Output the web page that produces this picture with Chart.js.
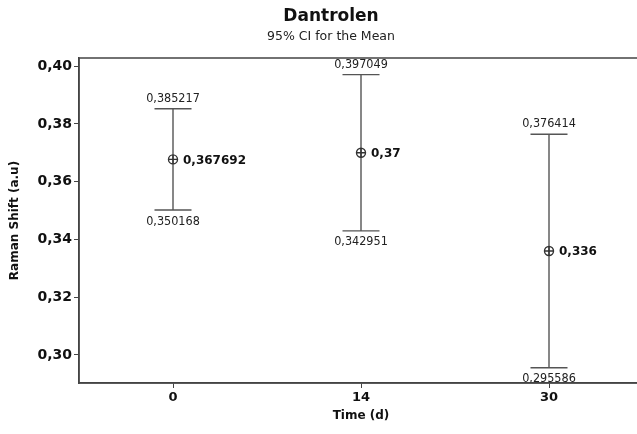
<!DOCTYPE html>
<html>
<head>
<meta charset="utf-8">
<script src="https://cdn.jsdelivr.net/npm/chart.js@4"></script>
<style>
  html, body { margin: 0; padding: 0; background: #fff; overflow: hidden; }
  #wrap { width: 637px; height: 434px; overflow: hidden; }
</style>
</head>
<body>
<div id="wrap"><canvas id="c" width="662" height="434"></canvas></div>
<script>
// Interval plot: mean with 95% CI per time point
const TIMES = ["0", "14", "30"];
const MEANS = [0.367692, 0.37, 0.336];
const UPPER = [0.385217, 0.397049, 0.376414];
const LOWER = [0.350168, 0.342951, 0.295586];
const Y_TICKS = [0.30, 0.32, 0.34, 0.36, 0.38, 0.40];

const INK = "#111", LINE = "#555", FRAME = "#444";
const SMALL = '12.5px "Liberation Sans Narrow", "DejaVu Sans Condensed", "DejaVu Sans"';
const comma = v => String(v).replace(".", ",");

const intervals = {
  id: "intervals",
  beforeDatasetsDraw(chart) {
    const { ctx, scales: { x, y } } = chart;
    ctx.save();
    ctx.strokeStyle = LINE;
    ctx.lineWidth = 1.4;
    TIMES.forEach((t, i) => {
      const px = x.getPixelForValue(i);
      const yu = y.getPixelForValue(UPPER[i]), yl = y.getPixelForValue(LOWER[i]);
      ctx.beginPath();
      ctx.moveTo(px, yu); ctx.lineTo(px, yl);
      ctx.moveTo(px - 18.5, yu); ctx.lineTo(px + 18.5, yu);
      ctx.moveTo(px - 18.5, yl); ctx.lineTo(px + 18.5, yl);
      ctx.stroke();
      ctx.fillStyle = "#222";
      ctx.font = SMALL;
      ctx.textAlign = "center";
      ctx.textBaseline = "bottom";
      ctx.fillText(comma(UPPER[i]), px, yu - 4);
      ctx.textBaseline = "top";
      ctx.fillText(comma(LOWER[i]), px, yl + 5);
      ctx.fillStyle = INK;
      ctx.font = 'bold 12px "DejaVu Sans"';
      ctx.textAlign = "left";
      ctx.textBaseline = "middle";
      ctx.fillText(comma(MEANS[i]), px + 10, y.getPixelForValue(MEANS[i]) + 1);
    });
    ctx.restore();
  },
  afterDraw(chart) {
    const { ctx, chartArea: a } = chart;
    ctx.save();
    ctx.strokeStyle = FRAME;
    ctx.lineWidth = 1.5;
    ctx.strokeRect(a.left, a.top, a.right - a.left, a.bottom - a.top);
    ctx.restore();
  }
};

new Chart(document.getElementById("c"), {
  type: "line",
  data: {
    labels: TIMES,
    datasets: [
      { data: MEANS, showLine: false, pointStyle: "circle", pointRadius: 4.5,
        pointBorderColor: "#333", pointBackgroundColor: "rgba(0,0,0,0)", pointBorderWidth: 1.4 },
      { data: MEANS, showLine: false, pointStyle: "cross", pointRadius: 4.5,
        pointBorderColor: "#333", pointBorderWidth: 1.4 }
    ]
  },
  options: {
    responsive: false, animation: false,
    layout: { padding: 0 },
    plugins: {
      legend: { display: false }, tooltip: { enabled: false },
      title: { display: true, text: "Dantrolen", color: INK,
        font: { family: "DejaVu Sans", size: 17, weight: "bold" }, padding: { top: 6.8, bottom: 0 } },
      subtitle: { display: true, text: "95% CI for the Mean", color: "#222",
        font: { family: "DejaVu Sans", size: 12.5 }, padding: { top: 2.5, bottom: 13.3 } }
    },
    scales: {
      x: {
        offset: true,
        grid: { display: true, drawOnChartArea: false, drawTicks: true, tickLength: 5, offset: false, color: FRAME },
        border: { display: true, color: FRAME, width: 1.5 },
        ticks: { color: INK, padding: 2, font: { family: "DejaVu Sans", size: 13, weight: "bold" } },
        title: { display: true, text: "Time (d)", color: INK, padding: { top: 0, bottom: 10.8 },
          font: { family: "DejaVu Sans", size: 12, weight: "bold" } },
        afterFit: s => { s.height = 51; }
      },
      y: {
        min: 0.2903, max: 0.4028,
        afterBuildTicks: s => { s.ticks = Y_TICKS.map(v => ({ value: v })); },
        grid: { display: true, drawOnChartArea: false, drawTicks: true, tickLength: 5, color: FRAME },
        border: { display: true, color: FRAME, width: 1.5 },
        ticks: { color: INK, padding: 2, callback: v => v.toFixed(2).replace(".", ","),
          font: { family: "DejaVu Sans", size: 14, weight: "bold" } },
        title: { display: true, text: "Raman Shift (a.u)", color: INK, padding: { top: 7.8, bottom: 0 },
          font: { family: "DejaVu Sans", size: 12, weight: "bold" } },
        afterFit: s => { s.width = 79; }
      },
      // empty right-hand spacer so the frame ends past the window edge while titles stay centred on the full width
      spacer: {
        type: "linear", position: "right",
        grid: { display: false }, border: { display: false }, ticks: { display: false },
        afterFit: s => { s.width = 19; }
      }
    }
  },
  plugins: [intervals]
});
</script>
</body>
</html>
